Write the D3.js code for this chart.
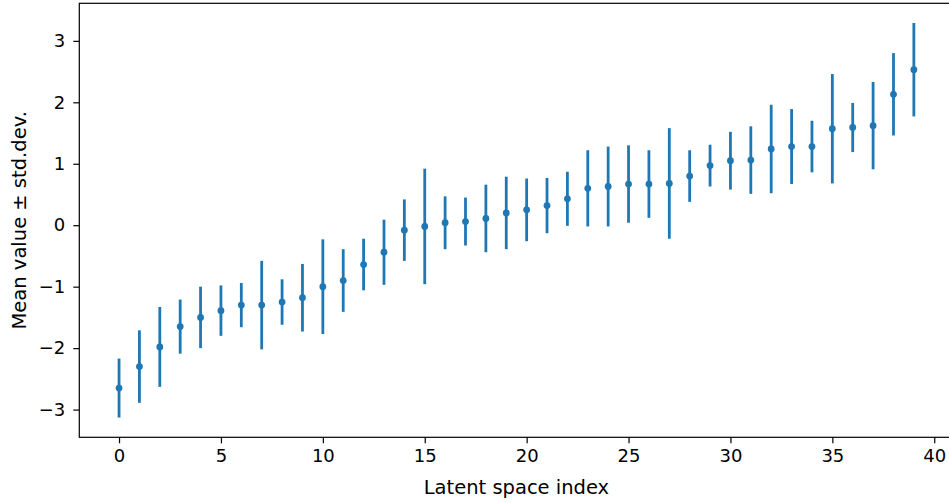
<!DOCTYPE html>
<html>
<head>
<meta charset="utf-8">
<script src="https://cdn.jsdelivr.net/npm/d3@7"></script>
<style>
  html, body { margin: 0; padding: 0; background: #fff; overflow: hidden; }
  svg { display: block; }
  text { font-family: "DejaVu Sans", sans-serif; fill: #000; }
</style>
</head>
<body>
<svg id="chart" width="949" height="503"></svg>
<script>
// Latent dimension indices, sorted by mean value
const indices = d3.range(40);

// Mean value of each latent dimension
const means = [
  -2.65, -2.30, -1.98, -1.65, -1.50, -1.39, -1.30, -1.30, -1.25, -1.18,
  -1.00, -0.90, -0.64, -0.44, -0.08, -0.02, 0.04, 0.06, 0.11, 0.20,
  0.25, 0.32, 0.43, 0.60, 0.63, 0.67, 0.67, 0.68, 0.80, 0.97,
  1.05, 1.06, 1.24, 1.28, 1.28, 1.57, 1.59, 1.62, 2.13, 2.53
];

// Standard deviation of each latent dimension
const stds = [
  0.48, 0.59, 0.65, 0.44, 0.50, 0.41, 0.36, 0.72, 0.37, 0.55,
  0.77, 0.51, 0.42, 0.53, 0.50, 0.94, 0.43, 0.39, 0.55, 0.59,
  0.51, 0.45, 0.44, 0.62, 0.65, 0.63, 0.55, 0.90, 0.42, 0.34,
  0.47, 0.55, 0.72, 0.61, 0.42, 0.89, 0.40, 0.71, 0.67, 0.76
];

const xTicks = [0, 5, 10, 15, 20, 25, 30, 35, 40];
const yTicks = [-3, -2, -1, 0, 1, 2, 3];

const color = "#1f77b4";
const tickFont = "18px";
const labelFont = "19.5px";
const margin = { left: 79.3, top: 3.3 };
const plotW = 874.3, plotH = 434;

const svg = d3.select("#chart");
const g = svg.append("g").attr("transform", `translate(${margin.left},${margin.top})`);

// Axis limits with 5% padding around the data, like matplotlib's autoscale
const pad = (lo, hi) => { const r = hi - lo; return [lo - 0.05 * r, hi + 0.05 * r]; };
const xDom = pad(d3.min(indices), d3.max(indices));
const yDom = pad(d3.min(means, (m, i) => m - stds[i]), d3.max(means, (m, i) => m + stds[i]));

const x = d3.scaleLinear().domain(xDom).range([0, plotW]);
const y = d3.scaleLinear().domain(yDom).range([plotH, 0]);

const data = indices.map((k, i) => ({ k, m: means[i], s: stds[i] }));

// Error bars (mean ± std)
g.append("g").selectAll("line").data(data).join("line")
  .attr("x1", d => x(d.k)).attr("x2", d => x(d.k))
  .attr("y1", d => y(d.m - d.s)).attr("y2", d => y(d.m + d.s))
  .attr("stroke", color).attr("stroke-width", 2.8);

// Mean markers
g.append("g").selectAll("circle").data(data).join("circle")
  .attr("cx", d => x(d.k)).attr("cy", d => y(d.m))
  .attr("r", 3.4).attr("fill", color);

// Axes
const xAxis = d3.axisBottom(x).tickValues(xTicks).tickSize(6).tickPadding(10).tickFormat(d3.format("d"));
const yAxis = d3.axisLeft(y).tickValues(yTicks).tickSize(6).tickPadding(8).tickFormat(d3.format("d"));

const gx = g.append("g").attr("transform", `translate(0,${plotH})`).call(xAxis);
const gy = g.append("g").call(yAxis);
[gx, gy].forEach(a => {
  a.select(".domain").remove();
  a.selectAll(".tick line").attr("stroke", "#000").attr("stroke-width", 1.2);
  a.selectAll(".tick text").style("font-size", tickFont).attr("fill", "#000");
});
gx.selectAll(".tick text").attr("y", 6).attr("dy", "1.05em");

// Frame (spines)
g.append("rect").attr("x", 0).attr("y", 0).attr("width", plotW).attr("height", plotH)
  .attr("fill", "none").attr("stroke", "#000").attr("stroke-width", 1.2);

// Axis titles
svg.append("text")
  .attr("x", margin.left + x(19.5)).attr("y", 494)
  .attr("text-anchor", "middle").style("font-size", labelFont)
  .text("Latent space index");

svg.append("text")
  .attr("transform", `translate(26,${margin.top + plotH / 2}) rotate(-90)`)
  .attr("text-anchor", "middle").style("font-size", labelFont)
  .text("Mean value ± std.dev.");
</script>
</body>
</html>
